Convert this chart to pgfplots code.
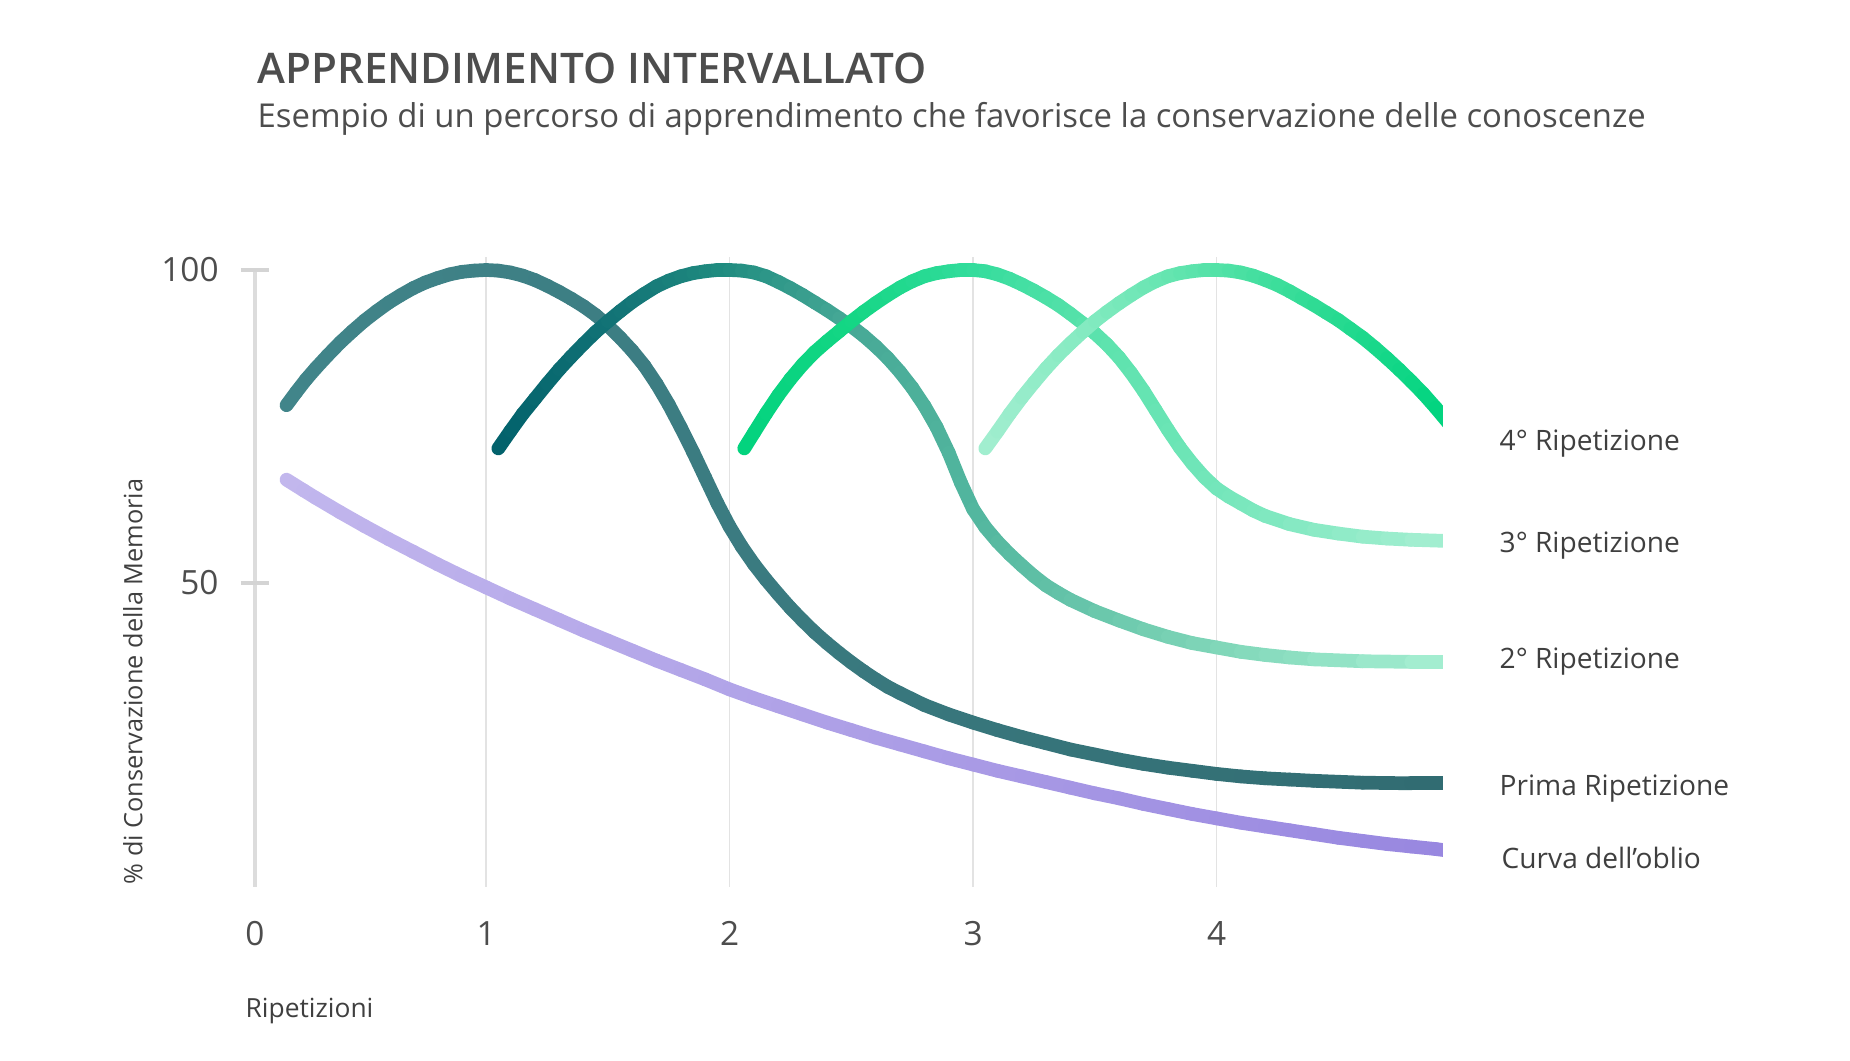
\documentclass[border=0pt]{standalone}
\usepackage{fontspec}
\setmainfont{Open Sans}
\newfontfamily\titlefont{Open Sans Semibold}
\usepackage{pgfplots}
\pgfplotsset{compat=1.18}
\definecolor{titlec}{HTML}{4D4D4D}
\definecolor{txtc}{HTML}{3F3F3F}
\definecolor{gridc}{HTML}{E3E3E3}
\definecolor{axisc}{HTML}{DCDCDC}
\definecolor{tickc}{HTML}{D4D4D4}
\pgfplotsset{
 colormap={cPurple}{rgb255(0.18cm)=(194,183,237) rgb255(4.96cm)=(152,135,224)},
 colormap={cOne}{rgb255(0.18cm)=(65,133,138) rgb255(4.96cm)=(49,108,114)},
 colormap={cTwo}{rgb255(0.18cm)=(2,97,107) rgb255(1.05cm)=(2,97,107) rgb255(1.6cm)=(20,118,120) rgb255(2.0cm)=(32,140,128) rgb255(2.5cm)=(70,168,150) rgb255(3.0cm)=(82,182,158) rgb255(4.0cm)=(127,214,184) rgb255(4.96cm)=(166,239,210)},
 colormap={cThree}{rgb255(0.18cm)=(2,211,126) rgb255(2.06cm)=(2,211,126) rgb255(2.5cm)=(20,214,132) rgb255(3.0cm)=(50,220,155) rgb255(3.5cm)=(90,226,172) rgb255(4.0cm)=(115,230,186) rgb255(4.96cm)=(166,239,210)},
 colormap={cFour}{rgb255(0.18cm)=(163,238,208) rgb255(3.05cm)=(163,238,208) rgb255(3.5cm)=(130,234,192) rgb255(4.0cm)=(85,226,168) rgb255(4.5cm)=(40,218,145) rgb255(4.96cm)=(0,212,127)},
}
\begin{document}
\begin{tikzpicture}[x=0.1mm,y=0.1mm]
\useasboundingbox (0,0) rectangle (1850,1060);
\begin{axis}[at={(25.5mm,17.34mm)}, anchor=south west, scale only axis,
  width=118.8mm, height=63.54mm,
  xmin=0.0505, xmax=4.93, ymin=1.5, ymax=103,
  axis line style={draw=none},
  xtick={0.0505,1,2,3,4}, xticklabels={0,1,2,3,4},
  ytick={50,100}, yticklabels={50,100},
  major tick length=0pt, tick style={draw=none},
  ticklabel style={font=\fontsize{9.5}{11}\selectfont, text=titlec},
  yticklabel style={xshift=-2.4mm},
  xticklabel style={yshift=-2.25mm},
  clip=true,
  point meta min=0.18, point meta max=4.96,
  every axis plot/.append style={mesh, point meta=x, line width=3.9pt, line cap=round, line join=round},
]
\draw[gridc, line width=0.4pt] (axis cs:1,1.5) -- (axis cs:1,102);
\draw[gridc, line width=0.4pt] (axis cs:2,1.5) -- (axis cs:2,102);
\draw[gridc, line width=0.4pt] (axis cs:3,1.5) -- (axis cs:3,102);
\draw[gridc, line width=0.4pt] (axis cs:4,1.5) -- (axis cs:4,102);
\coordinate (yb) at (axis cs:0.0505,1.5);
\coordinate (yt) at (axis cs:0.0505,100);
\coordinate (y50) at (axis cs:0.0505,50);
% Curva dell'oblio
\addplot[colormap name=cPurple] coordinates {
(0.18,66.5)(0.25,64.8)(0.3,63.6)(0.4,61.3)(0.5,59.1)(0.6,57.0)(0.7,55.0)(0.8,53.0)(0.9,51.1)(1.0,49.3)
(1.1,47.5)(1.2,45.8)(1.3,44.1)(1.4,42.4)(1.5,40.8)(1.6,39.2)(1.7,37.6)(1.8,36.1)(1.9,34.6)(2.0,33.0)
(2.1,31.6)(2.2,30.3)(2.3,29.0)(2.4,27.7)(2.5,26.5)(2.6,25.3)(2.7,24.2)(2.8,23.1)(2.9,22.0)
(3.0,21.0)(3.1,20.0)(3.2,19.1)(3.3,18.2)(3.4,17.3)(3.5,16.4)(3.6,15.6)(3.7,14.7)(3.8,13.9)(3.9,13.1)
(4.0,12.4)(4.1,11.7)(4.2,11.1)(4.3,10.5)(4.4,9.9)(4.5,9.3)(4.6,8.8)(4.7,8.3)(4.8,7.9)(4.9,7.5)(4.96,7.2)};
% Prima Ripetizione
\addplot[colormap name=cOne] coordinates {
(0.18,78.4)(0.22,80.5)(0.26,82.5)(0.3,84.3)(0.35,86.4)(0.4,88.4)(0.45,90.2)(0.5,91.9)(0.55,93.4)
(0.6,94.8)(0.65,96.0)(0.7,97.1)(0.75,98.0)(0.8,98.7)(0.85,99.3)(0.9,99.7)(0.95,99.9)(1.0,100)
(1.05,99.9)(1.1,99.6)(1.15,99.1)(1.2,98.4)(1.25,97.5)(1.3,96.5)(1.35,95.4)(1.4,94.2)(1.45,92.8)
(1.5,91.1)(1.55,89.2)(1.6,87.1)(1.65,84.7)(1.7,81.8)(1.75,78.5)(1.8,74.8)(1.85,70.9)(1.9,66.8)
(1.95,62.7)(2.0,59.0)(2.05,55.8)(2.1,53.0)(2.15,50.5)(2.2,48.2)(2.25,46.0)(2.3,44.0)(2.35,42.1)
(2.4,40.4)(2.45,38.8)(2.5,37.3)(2.55,35.9)(2.6,34.6)(2.65,33.4)(2.7,32.4)(2.8,30.5)(2.9,29.0)
(3.0,27.7)(3.1,26.5)(3.2,25.4)(3.3,24.4)(3.4,23.4)(3.5,22.6)(3.6,21.8)(3.7,21.1)(3.8,20.5)
(3.9,20.0)(4.0,19.5)(4.1,19.1)(4.2,18.8)(4.3,18.6)(4.4,18.4)(4.6,18.1)(4.8,18.0)(4.96,18.0)};
% 2 Ripetizione
\addplot[colormap name=cTwo] coordinates {
(1.05,71.5)(1.1,74.3)(1.15,77.0)(1.2,79.4)(1.25,81.8)(1.3,84.1)(1.35,86.2)(1.4,88.2)(1.45,90.1)
(1.5,91.8)(1.55,93.4)(1.6,94.9)(1.65,96.2)(1.7,97.4)(1.75,98.3)(1.8,99.0)(1.85,99.5)(1.9,99.8)
(1.95,100)(2.0,100)(2.05,99.9)(2.1,99.6)(2.15,99.0)(2.2,98.1)(2.25,97.1)(2.3,96.0)(2.35,94.8)
(2.4,93.6)(2.45,92.3)(2.5,91.0)(2.55,89.5)(2.6,87.8)(2.65,85.9)(2.7,83.7)(2.75,81.2)(2.8,78.3)
(2.85,74.9)(2.9,70.8)(2.95,66.0)(3.0,61.8)(3.05,58.9)(3.1,56.6)(3.15,54.6)(3.2,52.8)(3.25,51.1)
(3.3,49.6)(3.35,48.4)(3.4,47.3)(3.5,45.5)(3.6,44.0)(3.7,42.6)(3.8,41.4)(3.9,40.4)(4.0,39.7)
(4.1,39.0)(4.2,38.5)(4.3,38.1)(4.4,37.8)(4.6,37.5)(4.8,37.4)(4.96,37.4)};
% 3 Ripetizione
\addplot[colormap name=cThree] coordinates {
(2.06,71.5)(2.1,74.0)(2.15,77.1)(2.2,80.0)(2.25,82.6)(2.3,84.9)(2.35,86.9)(2.4,88.6)(2.45,90.2)
(2.5,91.8)(2.55,93.3)(2.6,94.7)(2.65,96.0)(2.7,97.2)(2.75,98.2)(2.8,99.0)(2.85,99.5)(2.9,99.8)
(2.95,100)(3.0,100)(3.05,99.8)(3.1,99.3)(3.15,98.6)(3.2,97.7)(3.25,96.7)(3.3,95.6)(3.35,94.4)
(3.4,93.0)(3.45,91.5)(3.5,89.9)(3.55,88.1)(3.6,86.0)(3.65,83.5)(3.7,80.7)(3.75,77.6)(3.8,74.5)
(3.85,71.6)(3.9,69.1)(3.95,66.9)(4.0,65.1)(4.05,63.8)(4.1,62.7)(4.15,61.6)(4.2,60.7)(4.3,59.4)
(4.4,58.5)(4.5,57.9)(4.6,57.4)(4.7,57.1)(4.8,56.9)(4.96,56.7)};
% 4 Ripetizione
\addplot[colormap name=cFour] coordinates {
(3.05,71.5)(3.1,74.2)(3.15,77.0)(3.2,79.6)(3.25,82.0)(3.3,84.3)(3.35,86.4)(3.4,88.3)(3.45,90.1)
(3.5,91.8)(3.55,93.3)(3.6,94.7)(3.65,96.0)(3.7,97.2)(3.75,98.2)(3.8,99.0)(3.85,99.5)(3.9,99.8)
(3.95,100)(4.0,100)(4.05,99.9)(4.1,99.6)(4.15,99.1)(4.2,98.4)(4.25,97.6)(4.3,96.6)(4.35,95.5)
(4.4,94.4)(4.45,93.2)(4.5,92.0)(4.55,90.6)(4.6,89.2)(4.65,87.6)(4.7,85.9)(4.75,84.1)(4.8,82.2)
(4.85,80.2)(4.9,78.0)(4.96,75.2)};
\end{axis}
\draw[axisc, line width=1.1pt] (yb) -- (yt);
\draw[tickc, line width=1.3pt] ([xshift=-1.4mm]yt) -- ([xshift=1.4mm]yt);
\draw[tickc, line width=1.3pt] ([xshift=-1.4mm]y50) -- ([xshift=1.4mm]y50);
\node[anchor=base west, inner sep=0, font=\titlefont\fontsize{12}{14}\selectfont, text=titlec] at (257,977) {APPRENDIMENTO INTERVALLATO};
\node[anchor=base west, inner sep=0, font=\fontsize{9.35}{11}\selectfont, text=titlec] at (257,933) {Esempio di un percorso di apprendimento che favorisce la conservazione delle conoscenze};
\node[rotate=90, anchor=west, inner sep=0, font=\fontsize{7.2}{8}\selectfont, text=txtc] at (133,175) {\% di Conservazione della Memoria};
\node[anchor=base west, inner sep=0, font=\fontsize{7.5}{9}\selectfont, text=txtc] at (245,43) {Ripetizioni};
\node[anchor=base west, inner sep=0, font=\fontsize{8}{9}\selectfont, text=txtc] at (1499,610) {4° Ripetizione};
\node[anchor=base west, inner sep=0, font=\fontsize{8}{9}\selectfont, text=txtc] at (1499,508) {3° Ripetizione};
\node[anchor=base west, inner sep=0, font=\fontsize{8}{9}\selectfont, text=txtc] at (1499,392) {2° Ripetizione};
\node[anchor=base west, inner sep=0, font=\fontsize{8}{9}\selectfont, text=txtc] at (1499,265) {Prima Ripetizione};
\node[anchor=base west, inner sep=0, font=\fontsize{8}{9}\selectfont, text=txtc] at (1501,192) {Curva dell’oblio};
\end{tikzpicture}
\end{document}
